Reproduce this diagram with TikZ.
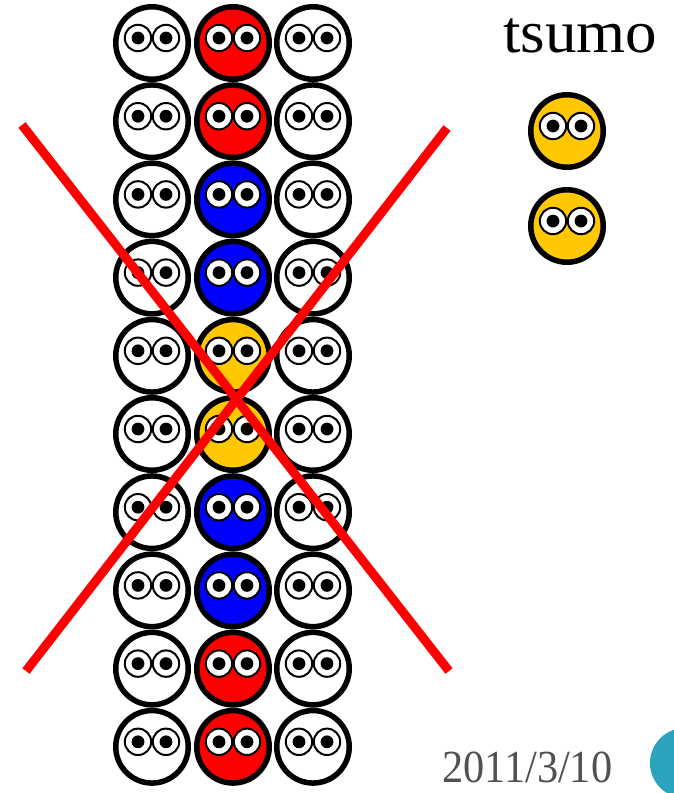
\documentclass[tikz,border=0pt]{standalone}
\usepackage{fontspec}
\setmainfont{Liberation Serif}
\begin{document}
\definecolor{puckred}{RGB}{255,0,0}
\definecolor{puckblue}{RGB}{0,0,255}
\definecolor{puckyellow}{RGB}{255,200,0}
\definecolor{datagray}{RGB}{80,80,80}
\definecolor{badge}{RGB}{43,163,190}
\tikzset{
  puckbody/.style={circle, draw=black, line width=5.5pt, minimum size=72.5pt,
    inner sep=0pt, fill=#1},
  eyewhite/.style={draw=black, line width=2pt, fill=white},
  pupil/.style={fill=black},
  cross/.style={draw=puckred, line width=9pt},
}
% one puyo: body node plus two eyes placed relative to its centre
\newcommand{\puyo}[4]{%
  \node[puckbody=#4] (#1) at (#2,#3) {};
  \draw[eyewhite] ([shift={(-14,-5)}]#1.center) circle (13.2);
  \draw[eyewhite] ([shift={(14,-5)}]#1.center) circle (13.2);
  \fill[pupil] ([shift={(-14,-5)}]#1.center) circle (6.4);
  \fill[pupil] ([shift={(14,-5)}]#1.center) circle (6.4);
}
\begin{tikzpicture}[x=1pt, y=-1pt]
  \useasboundingbox (0,0) rectangle (673,793);
  % field: three columns, ten rows; the middle column is coloured
  \foreach \c/\col in {1/puckred, 2/puckred, 3/puckblue, 4/puckblue,
      5/puckyellow, 6/puckyellow, 7/puckblue, 8/puckblue,
      9/puckred, 10/puckred} {
    \pgfmathsetmacro{\yy}{43+(\c-1)*78.2}
    \puyo{l\c}{152}{\yy}{white}
    \puyo{m\c}{233}{\yy}{\col}
    \puyo{r\c}{313}{\yy}{white}
  }
  % the red cross over the field
  \coordinate (xa) at (22,125);
  \coordinate (xb) at (449,671);
  \coordinate (xc) at (447,128);
  \coordinate (xd) at (26,671);
  \draw[cross] (xa) -- (xb);
  \draw[cross] (xc) -- (xd);
  % next pieces
  \node[anchor=base west, inner sep=0pt, font=\fontsize{60}{60}\selectfont] (tsumo) at (503,52) {\scalebox{1.05}[1]{tsumo}};
  \puyo{t1}{567}{131}{puckyellow}
  \puyo{t2}{567}{226}{puckyellow}
  % footer
  \node[anchor=base west, inner sep=0pt, text=datagray, font=\fontsize{46}{46}\selectfont] (date) at (442,782) {\scalebox{0.92}[1]{2011/3/10}};
  \fill[badge] (685,763) circle (35);
\end{tikzpicture}
\end{document}
